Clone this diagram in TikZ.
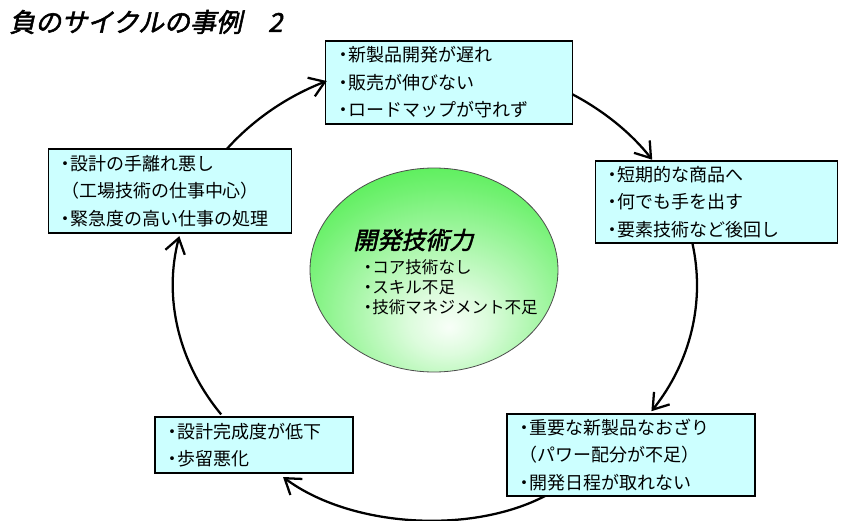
\documentclass[tikz,border=0pt]{standalone}
\usepackage{fontspec}
\newfontfamily\cjk{Noto Sans CJK JP}
\newfontfamily\cjkbi[FakeSlant=0.22,FakeBold=2]{Noto Sans CJK JP}
\usetikzlibrary{arrows.meta}
\definecolor{boxcyan}{RGB}{204,255,255}
\definecolor{ballgreen}{RGB}{20,232,20}
\pgfdeclareradialshading{ballshade}{\pgfpoint{3bp}{-14bp}}{%
  color(0bp)=(white!97!ballgreen);
  color(8bp)=(white!85!ballgreen);
  color(30bp)=(white!40!ballgreen);
  color(52bp)=(ballgreen);
  color(100bp)=(ballgreen)}
\newcommand{\bul}{\leavevmode\hbox to 0.55em{\hss ・\hss}}
\tikzset{
  infobox/.style={draw=black, line width=0.8pt, fill=boxcyan, align=left,
    inner xsep=9.5pt, inner ysep=0pt,
    font=\cjk\fontsize{13.5}{20.6}\selectfont},
  cyc/.style={draw=black, line width=1.7pt,
    -{Straight Barb[length=11pt,width=15pt,line width=1.7pt]}},
  ttl/.style={font=\cjkbi\fontsize{19.5}{22}\selectfont, anchor=west, inner sep=0pt},
}
\begin{document}
\begin{tikzpicture}[x=0.75pt,y=-0.75pt]
\useasboundingbox[fill=white] (0,0) rectangle (844,521);

% title
\node[ttl] (title) at (9,22) {負のサイクルの事例　2};

% central ball
\path[draw=black!70, line width=0.6pt, shading=ballshade]
  (434,270) ellipse [x radius=124, y radius=102];
\coordinate (ball) at (434,270);
\node[font=\cjkbi\fontsize{18}{20}\selectfont, anchor=west, inner sep=0pt] (core) at (353,240) {開発技術力};
\node[font=\cjk\fontsize{12.4}{15}\selectfont, anchor=west, align=left, inner sep=0pt] (corelist) at (363,287)
  {\bul コア技術なし\\\bul スキル不足\\\bul 技術マネジメント不足};

% boxes
\node[infobox, text width=166pt, minimum height=62.25pt] (top) at (449,82.5)
  {\bul 新製品開発が遅れ\\\bul 販売が伸びない\\\bul ロードマップが守れず};
\node[infobox, text width=163.5pt, minimum height=63pt] (left) at (170,191)
  {\bul 設計の手離れ悪し\\（工場技術の仕事中心）\\\bul 緊急度の高い仕事の処理};
\node[infobox, text width=163pt, minimum height=61.5pt] (right) at (716.5,202)
  {\bul 短期的な商品へ\\\bul 何でも手を出す\\\bul 要素技術など後回し};
\node[infobox, text width=167pt, minimum height=61.5pt] (bright) at (631,455)
  {\bul 重要な新製品なおざり\\（パワー配分が不足）\\\bul 開発日程が取れない};
\node[infobox, text width=129.5pt, minimum height=42pt] (bleft) at (254,445)
  {\bul 設計完成度が低下\\\bul 歩留悪化};

% cycle arcs
\coordinate (C) at (435,285);
\draw[cyc] (C) ++(217.4:262 and 224) arc[start angle=217.4, end angle=245.6, x radius=262, y radius=224];
\draw[cyc] (C) ++(301.6:262 and 224) arc[start angle=301.6, end angle=326, x radius=262, y radius=224];
\draw[cyc] (C) ++(349.2:262 and 224) arc[start angle=349.2, end angle=394.3, x radius=262, y radius=224];
\coordinate (b4s) at (545,496);
\coordinate (b4e) at (283,477);
\draw[cyc] (b4s) .. controls (470,535) and (350,527) .. (b4e);
\draw[cyc] (C) ++(144.7:262 and 224) arc[start angle=144.7, end angle=192.6, x radius=262, y radius=224];
\end{tikzpicture}
\end{document}
